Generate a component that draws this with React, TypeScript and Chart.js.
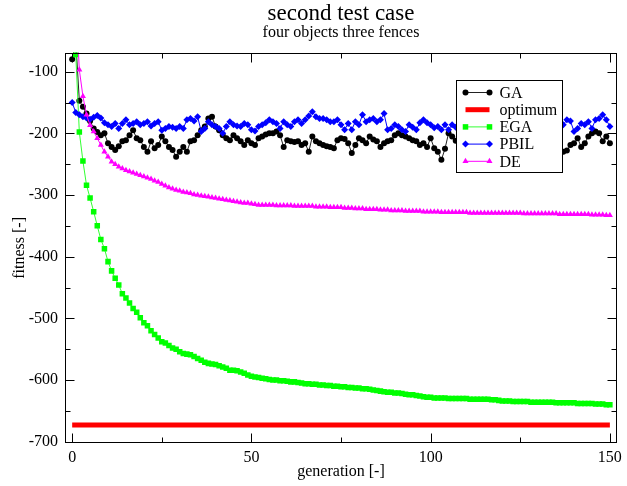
import React, { useEffect, useRef } from 'react';
import { Chart, registerables } from 'chart.js';

Chart.register(...registerables);

// ---------- data ----------
const GENERATIONS = Array.from({ length: 151 }, (_, i) => i);

const GA = [
  -80, -50, -147, -157, -168, -180, -192, -198, -203, -200,
  -216, -222, -227, -221, -213, -211, -203, -195, -208, -211,
  -222, -230, -213, -224, -219, -205, -213, -222, -227, -238,
  -230, -222, -230, -213, -211, -203, -195, -189, -176, -173,
  -189, -195, -203, -208, -211, -203, -208, -213, -219, -211,
  -216, -219, -208, -205, -202, -200, -200, -197, -203, -222,
  -211, -213, -214, -213, -219, -216, -230, -205, -213, -216,
  -219, -221, -222, -224, -211, -208, -209, -216, -232, -219,
  -208, -211, -216, -205, -210, -213, -222, -216, -213, -211,
  -203, -200, -203, -205, -208, -211, -213, -219, -216, -222,
  -208, -224, -230, -243, -225, -200, -205, -212, -208, -215,
  -220, -213, -210, -218, -222, -214, -208, -205, -212, -219,
  -216, -222, -226, -218, -211, -215, -220, -214, -209, -213,
  -221, -225, -219, -222, -228, -230, -232, -230, -228, -219,
  -216, -208, -222, -216, -205, -200, -197, -200, -213, -205,
  -216,
];

const PBIL = [
  -150, -166, -170, -173, -175, -177, -174, -171, -175, -183,
  -186, -189, -184, -192, -184, -178, -186, -184, -181, -186,
  -184, -181, -188, -184, -181, -195, -192, -189, -190, -192,
  -189, -192, -178, -176, -180, -173, -197, -192, -181, -186,
  -189, -192, -200, -189, -181, -186, -188, -189, -184, -186,
  -194, -196, -189, -186, -183, -178, -181, -184, -192, -181,
  -186, -189, -181, -178, -184, -178, -172, -165, -173, -176,
  -176, -178, -181, -181, -178, -186, -194, -184, -194, -181,
  -186, -170, -181, -178, -176, -181, -178, -168, -194, -192,
  -186, -189, -194, -197, -186, -190, -194, -183, -178, -183,
  -186, -191, -189, -194, -186, -194, -186, -190, -183, -188,
  -192, -185, -181, -187, -190, -184, -179, -186, -191, -188,
  -183, -186, -193, -189, -184, -181, -187, -190, -185, -183,
  -188, -192, -186, -182, -185, -188, -181, -186, -178, -180,
  -197, -192, -184, -186, -181, -192, -178, -176, -170, -178,
  -189,
];

const EGA = [
  -40, -72, -198, -245, -284, -305, -327, -350, -372, -387,
  -408, -423, -435, -446, -460, -467, -475, -484, -490, -499,
  -507, -512, -520, -526, -532, -538, -540, -544, -548, -550,
  -554, -557, -558, -559, -562, -565, -568, -571, -573, -574,
  -575, -577, -579, -581, -584, -584, -585, -587, -589, -592,
  -594, -595, -596, -597, -598, -599, -600, -600, -601, -601,
  -602, -603, -603, -604, -605, -606, -606, -607, -607, -608,
  -608, -609, -609, -610, -610, -611, -611, -612, -612, -613,
  -613, -614, -614, -615, -616, -617, -618, -619, -620, -620,
  -621, -621, -622, -623, -624, -624, -625, -626, -627, -628,
  -628, -629, -629, -629, -629, -630, -630, -630, -630, -630,
  -630, -631, -631, -631, -631, -631, -631, -632, -632, -633,
  -634, -634, -634, -635, -635, -635, -635, -635, -636, -636,
  -636, -636, -636, -636, -636, -637, -637, -637, -637, -637,
  -637, -638, -638, -638, -638, -638, -639, -639, -639, -640,
  -640,
];

const DE = [
  60, 15, -97, -140, -170, -187, -197, -208, -219, -230,
  -238, -246, -250, -254, -257, -260, -262, -264, -266, -268,
  -270, -272, -274, -277, -279, -282, -285, -288, -290, -292,
  -293, -295, -296, -297, -299, -300, -301, -302, -303, -304,
  -305, -306, -307, -308, -309, -310, -311, -312, -313, -313,
  -314, -315, -316, -316, -316, -316, -316, -317, -317, -317,
  -317, -317, -318, -318, -318, -318, -318, -318, -319, -319,
  -319, -319, -320, -320, -320, -320, -321, -321, -321, -322,
  -322, -322, -323, -323, -323, -323, -324, -324, -324, -325,
  -325, -325, -325, -326, -326, -326, -326, -326, -327, -327,
  -327, -327, -327, -328, -328, -328, -328, -328, -328, -328,
  -328, -329, -329, -329, -329, -329, -329, -329, -329, -329,
  -329, -329, -329, -329, -329, -329, -330, -330, -330, -330,
  -330, -330, -330, -330, -330, -330, -331, -331, -331, -331,
  -331, -331, -331, -331, -331, -332, -332, -332, -332, -333,
  -333,
];

const OPTIMUM = -673;
const OPTIMUM_SPAN = [0, 150];

const X_TICKS = [0, 50, 100, 150];
const X_MINOR_TICKS = [25, 75, 125];
const Y_TICKS = [-700, -600, -500, -400, -300, -200, -100];
const Y_MINOR_TICKS = [-650, -550, -450, -350, -250, -150];

const SERIES_NAMES = ['GA', 'optimum', 'EGA', 'PBIL', 'DE'];

// ---------- styles ----------
const FONT = "'Liberation Serif', 'Times New Roman', serif";

const STYLES: Record<string, { color: string; line: string; point: string; r: number; width: number }> = {
  GA: { color: '#000000', line: '#222222', point: 'circle', r: 3, width: 1 },
  optimum: { color: '#ff0000', line: '#ff0000', point: 'none', r: 0, width: 5 },
  EGA: { color: '#00ff00', line: '#33ff33', point: 'rect', r: 3.9, width: 1 },
  PBIL: { color: '#0000ff', line: '#0000ff', point: 'rectRot', r: 3.5, width: 1 },
  DE: { color: '#ff00ff', line: '#ff00ff', point: 'triangle', r: 3.5, width: 1 },
};

function drawMarker(ctx: CanvasRenderingContext2D, style: string, x: number, y: number, r: number, color: string) {
  ctx.fillStyle = color;
  ctx.beginPath();
  if (style === 'circle') {
    ctx.arc(x, y, r, 0, Math.PI * 2);
  } else if (style === 'rect') {
    const s = r * Math.SQRT1_2;
    ctx.rect(x - s, y - s, 2 * s, 2 * s);
  } else if (style === 'rectRot') {
    ctx.moveTo(x, y - r);
    ctx.lineTo(x + r, y);
    ctx.lineTo(x, y + r);
    ctx.lineTo(x - r, y);
    ctx.closePath();
  } else if (style === 'triangle') {
    for (let k = 0; k < 3; k++) {
      const a = (k * 2 * Math.PI) / 3;
      const px = x + Math.sin(a) * r;
      const py = y - Math.cos(a) * r;
      if (k === 0) ctx.moveTo(px, py);
      else ctx.lineTo(px, py);
    }
    ctx.closePath();
  }
  ctx.fill();
}

const frameTicksPlugin = {
  id: 'frameTicks',
  afterDatasetsDraw(chart: any) {
    const { ctx, chartArea: a, scales } = chart;
    const xs = scales.x;
    const ys = scales.y;
    const L = Math.round(a.left) + 0.5;
    const R = Math.round(a.right) - 0.5;
    const T = Math.round(a.top) + 0.5;
    const B = Math.round(a.bottom) - 0.5;
    ctx.save();
    ctx.strokeStyle = '#000';
    ctx.lineWidth = 1;
    ctx.strokeRect(L, T, R - L, B - T);
    ctx.beginPath();
    const xMarks = [...X_TICKS.map((v) => [v, 9]), ...X_MINOR_TICKS.map((v) => [v, 5])];
    xMarks.forEach(([v, len]) => {
      const px = Math.round(xs.getPixelForValue(v)) + 0.5;
      ctx.moveTo(px, B);
      ctx.lineTo(px, B - len);
      ctx.moveTo(px, T);
      ctx.lineTo(px, T + len);
    });
    const yMarks = [...Y_TICKS.map((v) => [v, 9]), ...Y_MINOR_TICKS.map((v) => [v, 5])];
    yMarks.forEach(([v, len]) => {
      const py = Math.round(ys.getPixelForValue(v)) + 0.5;
      ctx.moveTo(L, py);
      ctx.lineTo(L + len, py);
      ctx.moveTo(R, py);
      ctx.lineTo(R - len, py);
    });
    ctx.stroke();
    ctx.restore();
  },
};

const legendPlugin = {
  id: 'xmLegend',
  afterDatasetsDraw(chart: any) {
    const { ctx, chartArea: a } = chart;
    const x0 = Math.round(a.left + 391) + 0.5;
    const y0 = Math.round(a.top + 27) + 0.5;
    const w = 106;
    const h = 92;
    ctx.save();
    ctx.fillStyle = '#ffffff';
    ctx.fillRect(x0, y0, w, h);
    ctx.strokeStyle = '#000';
    ctx.lineWidth = 1;
    ctx.strokeRect(x0, y0, w, h);
    SERIES_NAMES.forEach((name, i) => {
      const st = STYLES[name];
      const y = y0 + 12 + i * 17.2;
      const lx1 = x0 + 9;
      const lx2 = x0 + 33;
      ctx.strokeStyle = st.line;
      ctx.lineWidth = st.width;
      ctx.beginPath();
      ctx.moveTo(lx1, y);
      ctx.lineTo(lx2, y);
      ctx.stroke();
      if (st.point !== 'none') {
        drawMarker(ctx, st.point, lx1, y, st.r, st.color);
        drawMarker(ctx, st.point, lx2, y, st.r, st.color);
      }
      ctx.fillStyle = '#000';
      ctx.font = `16px ${FONT}`;
      ctx.textBaseline = 'middle';
      ctx.textAlign = 'left';
      ctx.fillText(name, x0 + 43, y + 1);
    });
    ctx.restore();
  },
};

function makeSeries(name: string, values: number[], order: number) {
  const st = STYLES[name];
  return {
    label: name,
    data: GENERATIONS.map((g, i) => ({ x: g, y: values[i] })),
    borderColor: st.line,
    borderWidth: st.width,
    backgroundColor: st.color,
    pointStyle: st.point,
    pointRadius: st.r,
    pointBorderWidth: 0,
    pointBackgroundColor: st.color,
    pointBorderColor: st.color,
    tension: 0,
    fill: false,
    order,
  };
}

export default function App() {
  const ref = useRef<HTMLCanvasElement | null>(null);

  useEffect(() => {
    if (!ref.current) return;
    Chart.defaults.font.family = FONT;
    Chart.defaults.color = '#000';
    const chart = new Chart(ref.current, {
      type: 'line',
      data: {
        datasets: [
          makeSeries('DE', DE, 0),
          makeSeries('PBIL', PBIL, 1),
          makeSeries('EGA', EGA, 2),
          {
            label: 'optimum',
            data: OPTIMUM_SPAN.map((g) => ({ x: g, y: OPTIMUM })),
            borderColor: '#ff0000',
            borderWidth: 5,
            borderCapStyle: 'butt',
            pointRadius: 0,
            fill: false,
            order: 3,
          },
          makeSeries('GA', GA, 4),
        ] as any,
      },
      options: {
        responsive: false,
        animation: false,
        devicePixelRatio: 1,
        layout: { padding: { left: 0, right: 7, top: 0, bottom: 0 } },
        plugins: {
          legend: { display: false },
          tooltip: { enabled: false },
          title: {
            display: true,
            text: 'second test case',
            fullSize: false,
            color: '#000',
            font: { size: 23, weight: 'normal', lineHeight: 1 },
            padding: { top: 2, bottom: 0 },
          },
          subtitle: {
            display: true,
            text: 'four objects three fences',
            fullSize: false,
            color: '#000',
            font: { size: 16, weight: 'normal', lineHeight: 1 },
            padding: { top: 0, bottom: 11.5 },
          },
        },
        scales: {
          x: {
            type: 'linear',
            min: -2,
            max: 152,
            afterBuildTicks: (s: any) => {
              s.ticks = X_TICKS.map((v) => ({ value: v }));
            },
            afterFit: (s: any) => {
              s.height = 42.7;
            },
            grid: { display: false, drawTicks: false },
            border: { display: false },
            ticks: {
              padding: 5,
              color: '#000',
              font: { size: 16 },
              maxRotation: 0,
              autoSkip: false,
              callback: (v: any) => String(v),
            },
            title: {
              display: true,
              text: 'generation [-]',
              color: '#000',
              font: { size: 16 },
              padding: { top: 0, bottom: 5 },
            },
          },
          y: {
            type: 'linear',
            min: -702.6,
            max: -68.9,
            afterBuildTicks: (s: any) => {
              s.ticks = Y_TICKS.map((v) => ({ value: v }));
            },
            afterFit: (s: any) => {
              s.width = 65;
            },
            grid: { display: false, drawTicks: false },
            border: { display: false },
            ticks: {
              padding: 7,
              color: '#000',
              font: { size: 16 },
              autoSkip: false,
              callback: (v: any) => String(v),
            },
            title: {
              display: true,
              text: 'fitness [-]',
              color: '#000',
              font: { size: 16 },
              padding: { top: 10, bottom: 0 },
            },
          },
        },
      } as any,
      plugins: [legendPlugin, frameTicksPlugin],
    });
    return () => chart.destroy();
  }, []);

  return (
    <div style={{ position: 'fixed', left: 0, top: 0, width: 627, height: 486, background: '#fff' }}>
      <canvas ref={ref} width={627} height={486} style={{ display: 'block' }} />
    </div>
  );
}
